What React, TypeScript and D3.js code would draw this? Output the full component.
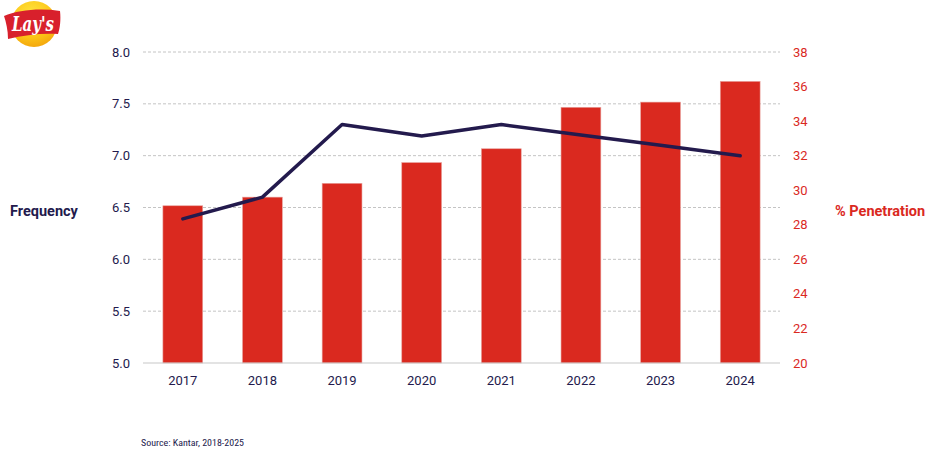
import React from "react";
import * as d3 from "d3";

// chart data
const years = ["2017", "2018", "2019", "2020", "2021", "2022", "2023", "2024"];
const penetration = [29.1, 29.6, 30.4, 31.6, 32.4, 34.8, 35.1, 36.3];
const frequency = [6.39, 6.6, 7.3, 7.19, 7.3, 7.2, 7.1, 7.0];
const freqTicks = [5.0, 5.5, 6.0, 6.5, 7.0, 7.5, 8.0];
const penTicks = [20, 22, 24, 26, 28, 30, 32, 34, 36, 38];

const W = 936;
const H = 456;
const margin = { top: 52, right: 156, bottom: 93, left: 143 };
const NAVY = "#231a4d";
const RED = "#da291f";
const FONT = "Roboto, 'Liberation Sans', sans-serif";

const Logo: React.FC = () => (
  <g transform="translate(34,24)">
    <defs>
      <radialGradient id="chip" cx="0.45" cy="0.3" r="0.75">
        <stop offset="0%" stopColor="#ffe640" />
        <stop offset="65%" stopColor="#fcc416" />
        <stop offset="100%" stopColor="#f2a20c" />
      </radialGradient>
    </defs>
    <circle r={23} fill="url(#chip)" />
    <path
      d="M-30,-8 C-16,-14 6,-16 26,-13 C27,-4 26,4 24,10 C8,9 -10,11 -26,15 C-26,6 -28,-2 -30,-8 Z"
      fill="#d8202c"
    />
    <text
      x={-1}
      y={7}
      textAnchor="middle"
      fill="#fff"
      fontFamily="'DejaVu Serif', serif"
      fontWeight="bold"
      fontStyle="italic"
      fontSize={20}
      textLength={42}
      lengthAdjust="spacingAndGlyphs"
    >
      Lay's
    </text>
  </g>
);

export default function App() {
  const innerW = W - margin.left - margin.right;
  const innerH = H - margin.top - margin.bottom;

  const x = d3.scaleBand().domain(years).range([0, innerW]).paddingInner(0.5).paddingOuter(0.25);
  const yL = d3.scaleLinear().domain([5, 8]).range([innerH, 0]);
  const yR = d3.scaleLinear().domain([20, 38]).range([innerH, 0]);

  const line = d3
    .line<number>()
    .x((_, i) => (x(years[i]) as number) + x.bandwidth() / 2)
    .y((d) => yL(d));

  return (
    <svg
      width={W}
      height={H}
      style={{ position: "absolute", left: 0, top: 0, background: "#fff" }}
      fontFamily={FONT}
    >
      <Logo />
      <g transform={`translate(${margin.left},${margin.top})`}>
        {/* gridlines */}
        {freqTicks.slice(1).map((t) => (
          <line
            key={t}
            x1={0}
            x2={innerW}
            y1={yL(t)}
            y2={yL(t)}
            stroke="#c4c4c4"
            strokeWidth={1}
            strokeDasharray="3,2"
          />
        ))}
        {/* bars */}
        {years.map((yr, i) => (
          <rect
            key={yr}
            x={x(yr) as number}
            y={yR(penetration[i])}
            width={x.bandwidth()}
            height={innerH - yR(penetration[i])}
            fill={RED}
            stroke="#e8a39e"
            strokeWidth={0.6}
          />
        ))}
        {/* baseline */}
        <line x1={0} x2={innerW} y1={innerH} y2={innerH} stroke="#c8c8c8" strokeWidth={1.2} />
        {/* frequency line */}
        <path
          d={line(frequency) as string}
          fill="none"
          stroke={NAVY}
          strokeWidth={3.5}
          strokeLinecap="round"
          strokeLinejoin="round"
        />
        {/* left ticks */}
        {freqTicks.map((t) => (
          <text
            key={t}
            x={-13}
            y={yL(t)}
            dy="0.35em"
            textAnchor="end"
            fill={NAVY}
            fontSize={13}
          >
            {d3.format(".1f")(t)}
          </text>
        ))}
        {/* right ticks */}
        {penTicks.map((t) => (
          <text
            key={t}
            x={innerW + 13}
            y={yR(t)}
            dy="0.35em"
            textAnchor="start"
            fill={RED}
            fontSize={13}
          >
            {t}
          </text>
        ))}
        {/* x labels */}
        {years.map((yr) => (
          <text
            key={yr}
            x={(x(yr) as number) + x.bandwidth() / 2}
            y={innerH + 22}
            textAnchor="middle"
            fill={NAVY}
            fontSize={13}
          >
            {yr}
          </text>
        ))}
      </g>
      <text x={10} y={211} dy="0.35em" fill={NAVY} fontSize={14.5} fontWeight="bold">
        Frequency
      </text>
      <text x={835} y={211} dy="0.35em" fill={RED} fontSize={14.5} fontWeight="bold">
        % Penetration
      </text>
      <text
        x={141}
        y={443}
        dy="0.35em"
        fill={NAVY}
        fontSize={9.5}
        fontFamily="'Roboto Condensed', 'Liberation Sans Narrow', 'Liberation Sans', sans-serif"
        textLength={103}
        lengthAdjust="spacingAndGlyphs"
      >
        Source: Kantar, 2018-2025
      </text>
    </svg>
  );
}
